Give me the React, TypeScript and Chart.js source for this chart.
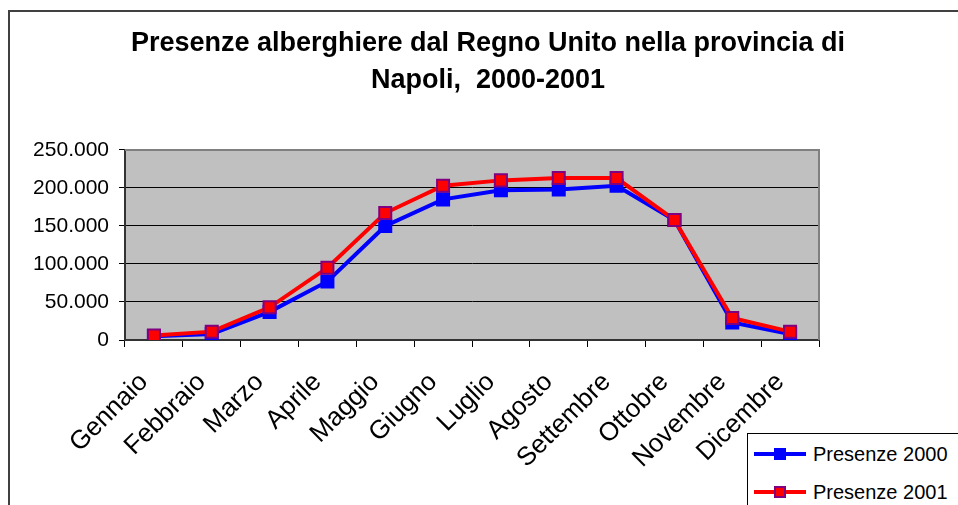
import React, { useEffect, useRef } from "react";
import { Chart, registerables } from "chart.js";

Chart.register(...registerables);

const TITLE_LINES = [
  "Presenze alberghiere dal Regno Unito nella provincia di",
  "Napoli,  2000-2001",
];
const MONTHS = [
  "Gennaio",
  "Febbraio",
  "Marzo",
  "Aprile",
  "Maggio",
  "Giugno",
  "Luglio",
  "Agosto",
  "Settembre",
  "Ottobre",
  "Novembre",
  "Dicembre",
];
const SERIES_NAMES = ["Presenze 2000", "Presenze 2001"];
const PRESENZE_2000 = [5000, 8000, 37000, 77000, 150000, 185000, 197000, 198000, 203000, 158000, 23000, 8000];
const PRESENZE_2001 = [6000, 11000, 43000, 95000, 167000, 203000, 210000, 213000, 213000, 158000, 29000, 11000];
const Y_MIN = 0;
const Y_MAX = 250000;
const Y_STEP = 50000;

const FONT = "'Liberation Sans', Arial, sans-serif";

const SERIES_STYLE = [
  { line: "#0000FF", fill: "#0000FF", border: "#0000FF" },
  { line: "#FF0000", fill: "#FF0000", border: "#800080" },
];

function formatIt(v: number): string {
  return String(Math.round(v)).replace(/\B(?=(\d{3})+(?!\d))/g, ".");
}

const plotBg = {
  id: "plotBg",
  beforeDraw(chart: any) {
    const { ctx, chartArea: a } = chart;
    ctx.save();
    ctx.fillStyle = "#C0C0C0";
    ctx.fillRect(a.left, a.top, a.right - a.left, a.bottom - a.top);
    ctx.restore();
  },
  beforeDatasetsDraw(chart: any) {
    const { ctx, chartArea: a } = chart;
    ctx.save();
    ctx.strokeStyle = "#808080";
    ctx.lineWidth = 2;
    ctx.beginPath();
    ctx.moveTo(a.left, a.top);
    ctx.lineTo(a.right, a.top);
    ctx.lineTo(a.right, a.bottom);
    ctx.stroke();
    ctx.restore();
  },
};

export default function App() {
  const ref = useRef<HTMLCanvasElement | null>(null);

  useEffect(() => {
    if (!ref.current) return;
    const seriesData = [PRESENZE_2000, PRESENZE_2001];
    const chart = new Chart(ref.current, {
      type: "line",
      data: {
        labels: MONTHS,
        datasets: seriesData.map((d, i) => ({
          label: SERIES_NAMES[i],
          data: d,
          yAxisID: "y",
          borderColor: SERIES_STYLE[i].line,
          backgroundColor: SERIES_STYLE[i].fill,
          pointBackgroundColor: SERIES_STYLE[i].fill,
          pointBorderColor: SERIES_STYLE[i].border,
          pointBorderWidth: 2,
          pointStyle: "rect",
          pointRadius: 8.5,
          borderWidth: 4,
          tension: 0,
          fill: false,
          order: seriesData.length - i,
        })),
      },
      options: {
        responsive: false,
        animation: false,
        devicePixelRatio: 1,
        layout: { padding: 0 },
        plugins: {
          legend: { display: false },
          tooltip: { enabled: false },
          title: {
            display: true,
            text: TITLE_LINES,
            color: "#000",
            font: { family: FONT, size: 27, weight: "bold", lineHeight: 1.37 },
            padding: { top: 13.5, bottom: 50.5 },
          },
        },
        scales: {
          x: {
            type: "category",
            offset: true,
            grid: {
              display: true,
              offset: true,
              drawOnChartArea: false,
              drawTicks: true,
              tickLength: 7,
              color: "#000",
              tickColor: "#000",
            },
            border: { display: true, color: "#333", width: 2 },
            ticks: {
              autoSkip: false,
              minRotation: 45,
              maxRotation: 45,
              color: "#000",
              font: { family: FONT, size: 26 },
              padding: 20,
              labelOffset: -10,
            },
            afterFit: (s: any) => {
              s.height = 172;
            },
          },
          y: {
            position: "left",
            min: Y_MIN,
            max: Y_MAX,
            grid: {
              color: "#000",
              tickColor: "#000",
              lineWidth: 1,
              tickLength: 6,
            },
            border: { display: true, color: "#333", width: 2 },
            ticks: {
              stepSize: Y_STEP,
              color: "#000",
              font: { family: FONT, size: 21 },
              padding: 10,
              callback: (v: any) => formatIt(Number(v)),
            },
            afterFit: (s: any) => {
              s.width = 115;
            },
          },
          spacer: {
            type: "linear",
            position: "right",
            display: true,
            grid: { display: false, drawTicks: false },
            border: { display: false },
            ticks: { display: false },
            afterFit: (s: any) => {
              s.width = 147;
            },
          },
        },
      },
      plugins: [plotBg],
    });
    return () => chart.destroy();
  }, []);

  return (
    <div
      style={{
        position: "fixed",
        left: 0,
        top: 0,
        width: 958,
        height: 505,
        overflow: "hidden",
        background: "#fff",
        fontFamily: FONT,
      }}
    >
      <div
        style={{
          position: "absolute",
          left: 8,
          top: 10,
          width: 960,
          height: 510,
          border: "2px solid #404040",
        }}
      >
        <canvas ref={ref} width={956} height={500} style={{ display: "block" }} />
      </div>
      <div
        style={{
          position: "absolute",
          left: 747,
          top: 433,
          width: 240,
          height: 120,
          border: "1px solid #000",
          background: "#fff",
        }}
      >
        {SERIES_NAMES.map((name, i) => (
          <div
            key={name}
            style={{ position: "absolute", left: 0, top: 1 + i * 38, height: 38, width: 240 }}
          >
            <div
              style={{
                position: "absolute",
                left: 6,
                top: 17,
                width: 52,
                height: 4,
                background: SERIES_STYLE[i].line,
              }}
            />
            <div
              style={{
                position: "absolute",
                left: 26,
                top: 13,
                width: 12,
                height: 12,
                boxSizing: "border-box",
                background: SERIES_STYLE[i].fill,
                border: `2px solid ${SERIES_STYLE[i].border}`,
              }}
            />
            <div
              style={{
                position: "absolute",
                left: 65,
                top: 0,
                lineHeight: "38px",
                fontSize: 20,
                color: "#000",
                whiteSpace: "nowrap",
              }}
            >
              {name}
            </div>
          </div>
        ))}
      </div>
    </div>
  );
}
